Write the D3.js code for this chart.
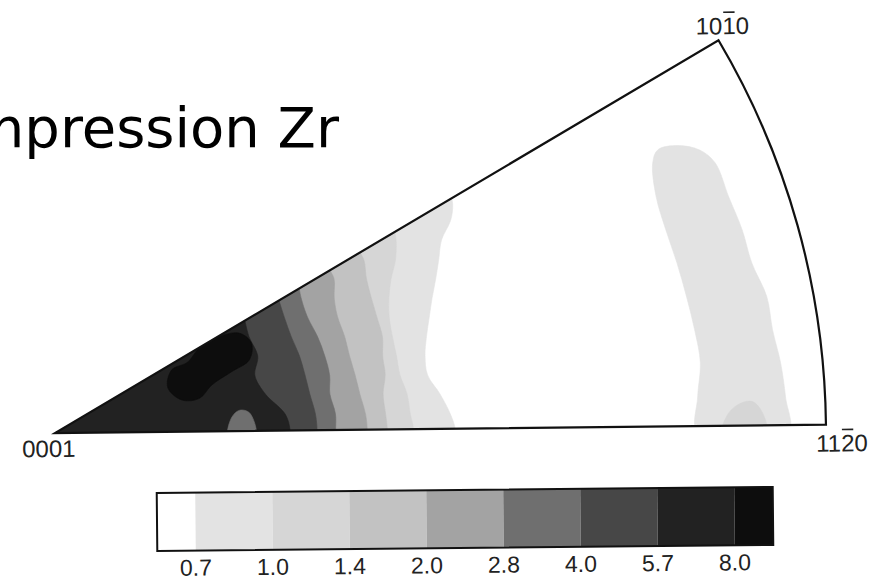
<!DOCTYPE html>
<html><head><meta charset="utf-8">
<script src="https://cdn.jsdelivr.net/npm/d3@7/dist/d3.min.js"></script>
<style>html,body{margin:0;padding:0;background:#fff;}svg{display:block;}</style>
</head><body>
<svg id="chart" width="884" height="582"></svg>
<script>
// ---------------- data ----------------
const titleText = "Compression Zr";
const levels = [0.7, 1.0, 1.4, 2.0, 2.8, 4.0, 5.7, 8.0];          // legend tick labels
const levelColors = ["#ffffff","#e3e3e3","#d6d6d6","#c2c2c2","#a3a3a3","#6f6f6f","#474747","#222222","#0d0d0d"];
const poleNames = ["0001", "1010", "1120"];   // third character carries an overbar for the last two
const poleBars = [-1, 2, 2];

// contour boundaries, [u, v] in % of the projection radius (u along 0001->11-20, v towards 10-10)
const bound07 = [[51.9,0],[51.3,1.9],[50.0,4.5],[48.4,7.0],[48.1,9.5],[48.3,11.9],[48.7,14.5],[49.1,17.0],[49.6,19.5],[50.0,21.9],[50.4,24.5],[51.6,27.0],[51.9,29.1],[51.6,30.6]];
const bound10 = [[46.5,0],[46.1,2.0],[45.7,4.6],[44.8,7.1],[44.4,9.5],[43.9,12.0],[43.5,14.6],[43.5,17.1],[43.8,19.5],[44.4,22.0],[44.5,24.6],[44.2,26.3]];
const bound14 = [[43.1,0],[42.9,2.0],[42.6,4.6],[42.9,7.1],[42.6,9.5],[42.6,12.0],[41.9,14.6],[41.2,17.1],[40.6,19.6],[40.3,22.0],[39.6,23.3]];
const bound20 = [[40.5,0],[40.3,2.0],[39.6,4.6],[39.0,7.1],[38.3,9.6],[37.7,12.1],[36.8,14.7],[36.4,17.1],[36.4,19.6],[35.7,21.0]];
const bound28 = [[36.4,0],[36.4,2.1],[35.7,4.7],[35.7,7.1],[35.1,9.6],[34.2,12.1],[32.9,14.7],[32.1,17.2],[31.8,18.9]];
const bound40 = [[34.0,0],[33.8,2.1],[33.1,4.7],[32.5,7.2],[31.8,9.7],[30.8,12.1],[29.9,14.7],[29.2,17.0]];
const bound57 = [[30.5,0],[29.9,2.1],[27.3,4.8],[26.0,7.2],[26.4,9.7],[25.3,12.2],[24.7,14.7]];
// closed islands
const blob80  = [[15.2,8.0],[17.3,9.0],[18.8,10.8],[21.2,12.2],[24.0,12.7],[25.6,11.4],[25.3,9.2],[23.0,7.7],[20.4,6.0],[18.8,4.3],[16.5,4.1],[14.7,5.7]];
const bump28  = [[22.5,-1],[22.9,1.7],[24.0,2.7],[25.3,2.3],[26.0,-1]];
const band07  = [[83.4,-1],[83.4,3.8],[83.8,8.2],[83.1,12.5],[82.1,16.8],[80.9,21.2],[79.5,25.5],[78.3,29.8],[77.9,34.2],[78.6,35.9],[81.2,36.4],[84.0,35.8],[86.0,34.1],[87.7,29.7],[89.4,25.4],[90.6,21.1],[92.5,16.7],[93.2,12.4],[94.2,8.1],[94.8,3.6],[95.1,-1]];
const band10  = [[86.6,-1],[87.4,1.65],[89.0,2.9],[90.5,3.1],[91.8,1.6],[92.2,-1]];

// ---------------- drawing ----------------
const svg = d3.select("#chart");
const R = 771;
const origin = [55, 433];
const tilt = -0.62;

svg.append("text")
  .attr("x", 339).attr("y", 147)
  .attr("text-anchor", "end")
  .style("font-family", "'DejaVu Sans', Verdana, sans-serif")
  .style("font-size", "56px")
  .attr("fill", "#000")
  .text(titleText);

const g = svg.append("g")
  .attr("transform", `translate(${origin[0]},${origin[1]}) rotate(${tilt})`);

const xS = d3.scaleLinear().domain([0, 100]).range([0, R]);
const yS = d3.scaleLinear().domain([0, 100]).range([0, -R]);

const sectorArc = d3.arc().innerRadius(0).outerRadius(R)
  .startAngle(Math.PI / 3).endAngle(Math.PI / 2);

svg.append("defs").append("clipPath").attr("id", "sector")
  .append("path").attr("d", sectorArc());

const maps = g.append("g").attr("clip-path", "url(#sector)");

const curveLine = d3.line().x(d => xS(d[0])).y(d => yS(d[1])).curve(d3.curveCatmullRom.alpha(0.5));
const closedLine = d3.line().x(d => xS(d[0])).y(d => yS(d[1])).curve(d3.curveCatmullRomClosed.alpha(0.5));

function region(B) {
  const pts = [[B[0][0], -3]].concat(B);
  const last = B[B.length - 1];
  return curveLine(pts) + `L${xS(-5)},${yS(last[1] + 3)}L${xS(-5)},${yS(-3)}Z`;
}

const layers = [
  {d: region(bound07), k: 1},
  {d: closedLine(band07), k: 1},
  {d: region(bound10), k: 2},
  {d: closedLine(band10), k: 2},
  {d: region(bound14), k: 3},
  {d: region(bound20), k: 4},
  {d: region(bound28), k: 5},
  {d: region(bound40), k: 6},
  {d: region(bound57), k: 7},
  {d: closedLine(bump28), k: 5},
  {d: closedLine(blob80), k: 8}
];
maps.selectAll("path.lvl").data(layers).join("path")
  .attr("class", "lvl")
  .attr("d", d => d.d)
  .attr("fill", d => levelColors[d.k])
  .attr("stroke", d => levelColors[d.k]).attr("stroke-width", 0.6);

g.append("path").attr("d", sectorArc())
  .attr("fill", "none").attr("stroke", "#111").attr("stroke-width", 2.2)
  .attr("stroke-linejoin", "miter");

// pole labels
const polePos = [[0, 0], [Math.cos(Math.PI / 6) * 100, Math.sin(Math.PI / 6) * 100], [100, 0]];
const labelOffsets = [[-33, 24, "start"], [4, -6, "middle"], [-10, 27, "start"]];
poleNames.forEach((name, i) => {
  const t = g.append("text")
    .attr("x", xS(polePos[i][0]) + labelOffsets[i][0])
    .attr("y", yS(polePos[i][1]) + labelOffsets[i][1])
    .attr("text-anchor", labelOffsets[i][2])
    .style("font-family", "'Liberation Sans', Arial, sans-serif")
    .style("font-size", "24px")
    .attr("fill", "#222")
    .text(name);
  if (poleBars[i] >= 0) {
    const n = t.node();
    const s = n.getStartPositionOfChar(poleBars[i]);
    const e = n.getEndPositionOfChar(poleBars[i]);
    g.append("line")
      .attr("x1", s.x + 1).attr("x2", e.x - 1)
      .attr("y1", s.y - 22).attr("y2", s.y - 22)
      .attr("stroke", "#222").attr("stroke-width", 1.6);
  }
});

// legend
const leg = svg.append("g").attr("transform", "rotate(-0.56,465,519)");
const lx = d3.scaleLinear().domain([-0.5, 7.5]).range([157, 773]);
const cells = d3.range(levels.length + 1).map(k => ({
  k, x0: k === 0 ? -0.5 : k - 1, x1: k === levels.length ? 7.5 : k
}));
leg.selectAll("rect.cell").data(cells).join("rect")
  .attr("class", "cell")
  .attr("x", d => lx(d.x0)).attr("width", d => lx(d.x1) - lx(d.x0))
  .attr("y", 490).attr("height", 58)
  .attr("fill", d => levelColors[d.k]);
leg.append("rect").attr("x", lx(-0.5)).attr("y", 490)
  .attr("width", lx(7.5) - lx(-0.5)).attr("height", 58)
  .attr("fill", "none").attr("stroke", "#111").attr("stroke-width", 2);
leg.selectAll("text.tick").data(levels).join("text")
  .attr("class", "tick")
  .attr("x", (d, i) => lx(i)).attr("y", 573)
  .attr("text-anchor", "middle")
  .style("font-family", "'Liberation Sans', Arial, sans-serif")
  .style("font-size", "23px")
  .attr("fill", "#222")
  .text(d => d.toFixed(1));
</script>
</body></html>
